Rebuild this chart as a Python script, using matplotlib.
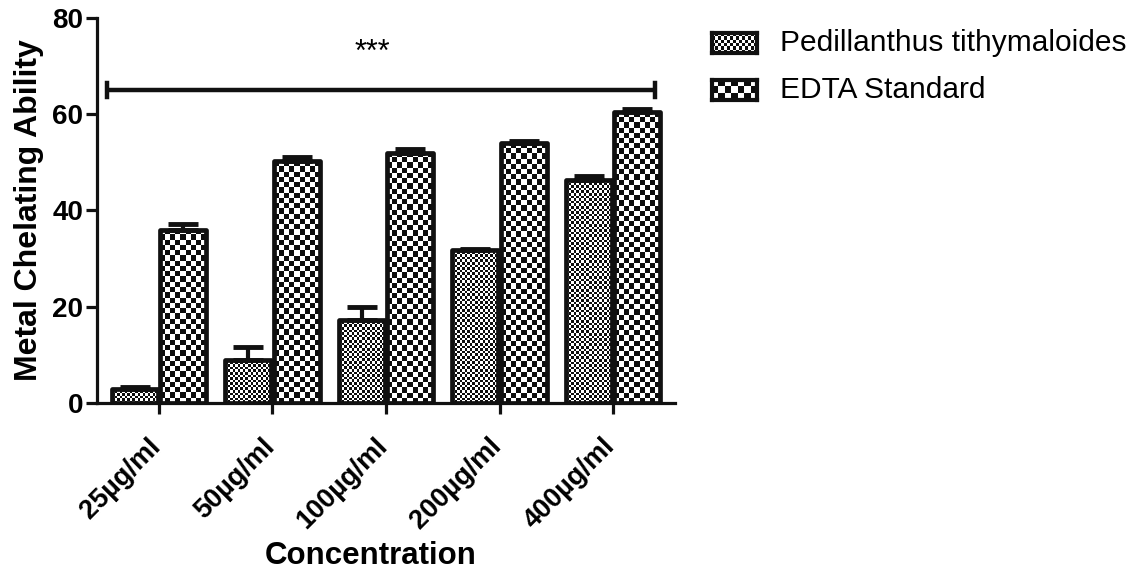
import numpy as np
import matplotlib.pyplot as plt
import matplotlib.transforms as mtransforms
from matplotlib.patches import Rectangle

plt.rcParams['font.family'] = ['Liberation Sans', 'DejaVu Sans']

# data
concentrations = ['25µg/ml', '50µg/ml', '100µg/ml', '200µg/ml', '400µg/ml']
plant_mean = [3.0, 9.0, 17.3, 31.8, 46.3]
plant_err = [0.3, 2.6, 2.7, 0.3, 0.8]
edta_mean = [36.0, 50.2, 52.0, 54.0, 60.4]
edta_err = [1.2, 1.0, 0.8, 0.5, 0.6]
series_names = ['Pedillanthus tithymaloides', 'EDTA Standard']

DPI = 100
fig = plt.figure(figsize=(11.38, 5.72), dpi=DPI)
ax = fig.add_axes([0.0852, 0.2955, 0.5080, 0.673])

x = np.arange(len(concentrations))
w = 0.405
off = 0.215
XLIM = (-0.546, len(concentrations) - 1 + 0.546)
YLIM = (0, 80)
ax.set_xlim(*XLIM)
ax.set_ylim(*YLIM)


def checker(nx, ny):
    i, j = np.indices((ny, nx))
    return ((i + j) % 2).astype(float)


def px_per_unit():
    fig.canvas.draw()
    bb = ax.get_window_extent()
    return bb.width / (XLIM[1] - XLIM[0]), bb.height / (YLIM[1] - YLIM[0])


sx, sy = px_per_unit()


def textured_bars(xs, heights, cell):
    for xc, h in zip(xs, heights):
        nx = max(1, int(round(w * sx / cell)))
        ny = max(1, int(round(h * sy / cell)))
        im = ax.imshow(checker(nx, ny), cmap='gray_r', vmin=0, vmax=1.05,
                       extent=(xc - w / 2, xc + w / 2, 0, h), aspect='auto',
                       interpolation='nearest', origin='lower', zorder=2)
        rect = Rectangle((xc - w / 2, 0), w, h, facecolor='none',
                         edgecolor='#111111', linewidth=3.4,
                         joinstyle='round', zorder=3)
        ax.add_patch(rect)
        im.set_clip_path(rect)


textured_bars(x - off, plant_mean, 2.6)
textured_bars(x + off, edta_mean, 5.2)

# upper error bars only
for xs, m, e in [(x - off, plant_mean, plant_err), (x + off, edta_mean, edta_err)]:
    ax.errorbar(xs, m, yerr=[np.zeros(len(e)), e], fmt='none', ecolor='#111111',
                elinewidth=3, capsize=11, capthick=3.5, zorder=4)

# significance bracket
bx0, bx1, by = -0.458, 4.37, 65
ax.plot([bx0, bx1], [by, by], color='#111111', lw=3.2, solid_capstyle='butt', zorder=5)
for bx in (bx0, bx1):
    ax.plot([bx, bx], [by - 1.4, by + 1.4], color='#111111', lw=3.2, zorder=5)
ax.text(1.877, 72.8, '***', ha='center', va='center', fontsize=22)

ax.set_xlim(*XLIM)
ax.set_ylim(*YLIM)
ax.spines['top'].set_visible(False)
ax.spines['right'].set_visible(False)
for s in ('left', 'bottom'):
    ax.spines[s].set_linewidth(2.3)
    ax.spines[s].set_color('#111111')
ax.tick_params(axis='both', width=2.3, length=8, color='#111111', pad=2)
ax.set_yticks([0, 20, 40, 60, 80])
ax.set_yticklabels(['0', '20', '40', '60', '80'], fontsize=20, fontweight='bold')
ax.set_xticks(x)
ax.set_xticklabels(concentrations, rotation=45, ha='right', rotation_mode='anchor',
                   fontsize=19.5, fontweight='bold')
ax.tick_params(axis='x', pad=14)
shift = mtransforms.ScaledTranslation(-8 / 72, 0, fig.dpi_scale_trans)
for lbl in ax.get_xticklabels():
    lbl.set_transform(lbl.get_transform() + shift)
ax.set_ylabel('Metal Chelating Ability', fontsize=23, fontweight='bold', labelpad=6)
ax.set_xlabel('Concentration', fontsize=22.5, fontweight='bold')
ax.xaxis.set_label_coords(0.474, -0.358)

# legend swatches
for k, (name, cell) in enumerate(zip(series_names, (2.6, 5.2))):
    yc = 1 - (43 + k * 47) / 572
    sw = fig.add_axes([712 / 1138, yc - 10 / 572, 45 / 1138, 20 / 572])
    sw.imshow(checker(int(41 / cell), int(16 / cell)), cmap='gray_r', vmin=0, vmax=1.05,
              aspect='auto', interpolation='nearest')
    sw.set_xticks([])
    sw.set_yticks([])
    for sp in sw.spines.values():
        sp.set_linewidth(3)
        sp.set_color('#111111')
    fig.text(780 / 1138, yc, name, fontsize=21.5, va='center', ha='left')

fig.savefig('out.png', dpi=DPI)
